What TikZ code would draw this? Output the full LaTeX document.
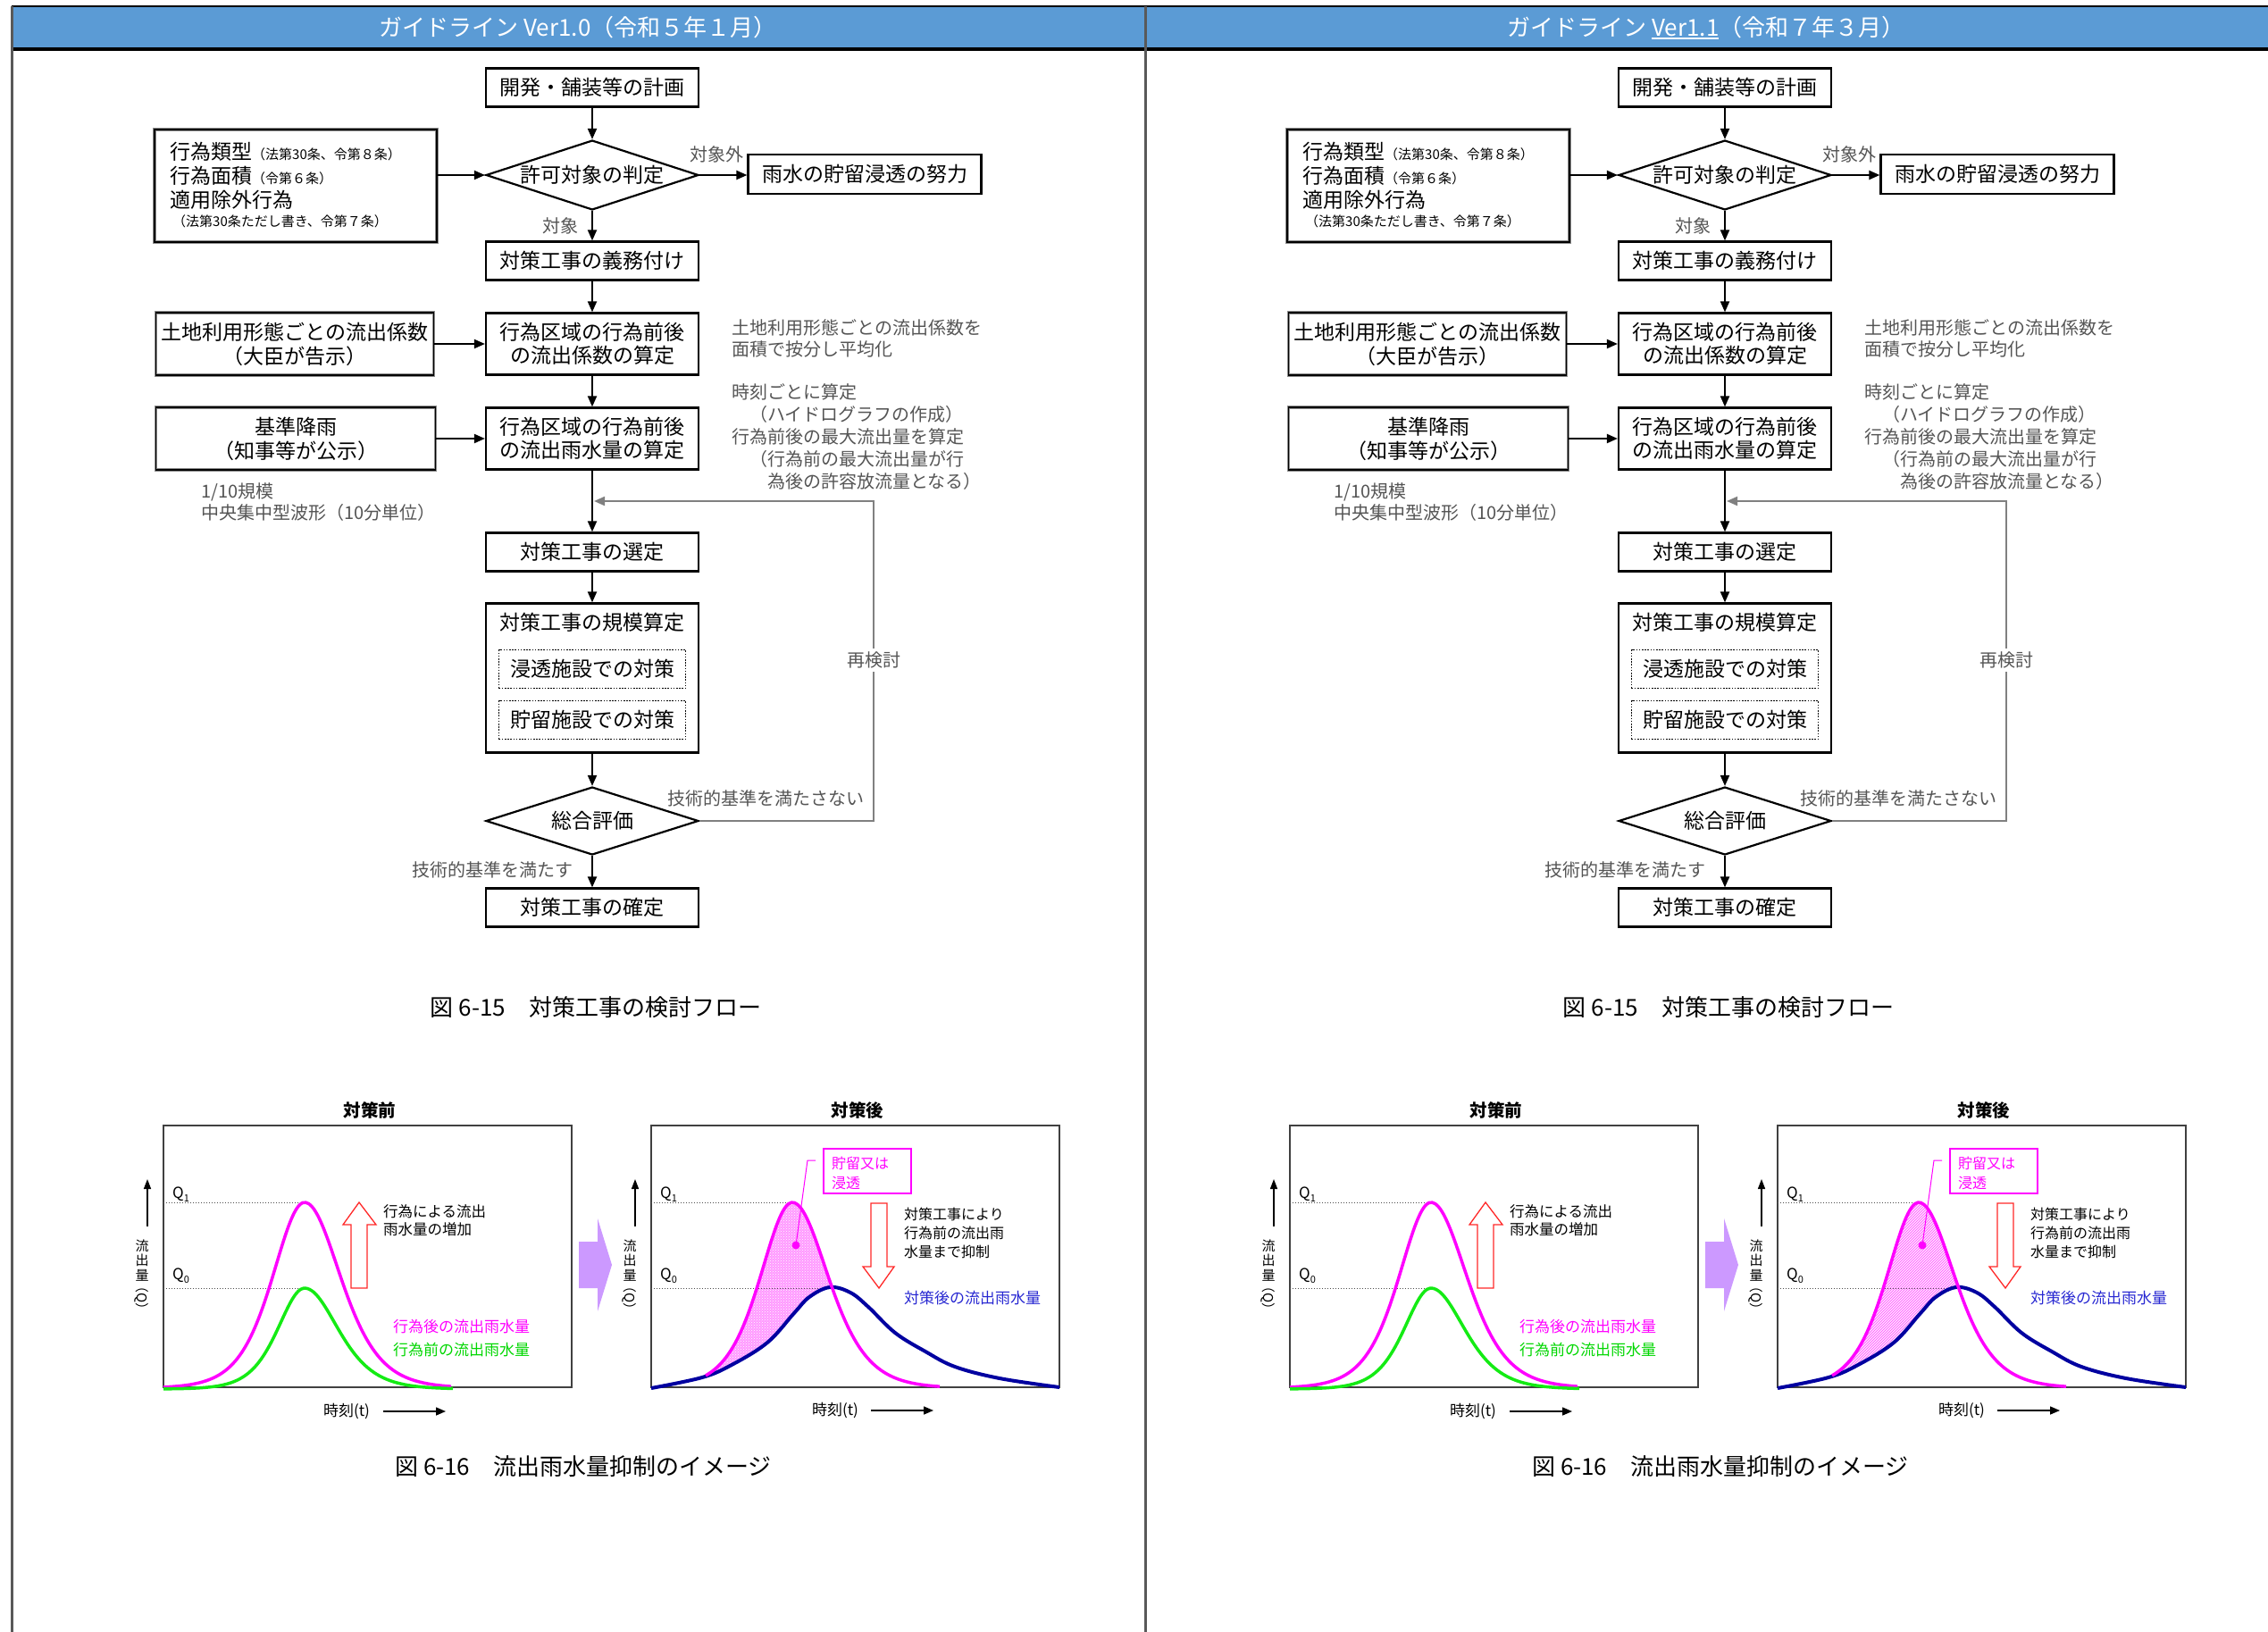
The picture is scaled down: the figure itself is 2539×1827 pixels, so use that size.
\documentclass[tikz,border=0pt]{standalone}
\usepackage{fontspec}
\setmainfont{Noto Sans CJK JP}
\usetikzlibrary{arrows.meta,shapes.geometric,patterns}
\definecolor{hdrblue}{RGB}{91,155,213}
\definecolor{notegray}{RGB}{85,85,85}
\definecolor{fbgray}{RGB}{128,128,128}
\definecolor{cmag}{RGB}{255,0,255}
\definecolor{cgreen}{RGB}{20,235,20}
\definecolor{ctgreen}{RGB}{0,215,0}
\definecolor{cnavy}{RGB}{0,0,160}
\definecolor{cbtxt}{RGB}{40,40,210}
\definecolor{cred}{RGB}{255,40,40}
\definecolor{clav}{RGB}{204,153,255}
\newcommand\myfs[2]{\fontsize{#1}{#2}\selectfont}
\newcommand\qsub[1]{\raisebox{-4pt}{\myfs{11}{12}#1}}
\newcommand\myul[1]{\setbox0=\hbox{#1}\rlap{\rule[-4pt]{\wd0}{2.2pt}}\box0}
\tikzset{
  fbx/.style={draw=black, line width=2.2pt, inner sep=0pt, minimum width=238pt, minimum height=43pt, align=center, font=\myfs{23}{26}},
  fdia/.style={draw=black, line width=2.2pt, shape=diamond, aspect=3.05, inner sep=0pt, minimum width=238pt, minimum height=78pt, font=\myfs{23}{26}},
  inbox/.style={draw=black!45, double=black, double distance=1.4pt, line width=1.2pt, inner sep=0pt, align=center, font=\myfs{23}{27}},
  dotbox/.style={draw=black, line width=1.6pt, dash pattern=on 1.6pt off 1.6pt, inner sep=0pt, minimum width=209pt, minimum height=43pt, font=\myfs{23}{26}},
  arr/.style={-{Triangle[length=12pt,width=10pt]}, line width=2pt},
  fbarr/.style={-{Triangle[length=12pt,width=10pt]}, line width=2pt, draw=fbgray},
  note/.style={text=notegray, font=\myfs{20}{24}, align=left, inner sep=0pt},
  lbl/.style={text=notegray, font=\myfs{20}{24}, inner sep=0pt},
  captxt/.style={font=\myfs{26}{30}, inner sep=0pt},
  ttl/.style={font=\myfs{19.5}{22}\bfseries, inner sep=0pt},
  pbox/.style={draw=black!75, line width=1.6pt},
  qline/.style={draw=black!70, line width=1pt, dotted},
  qlab/.style={font=\myfs{17}{20}, inner sep=0pt, anchor=west},
  axarr/.style={-{Triangle[length=11pt,width=8pt]}, line width=1.5pt},
  tarr/.style={-{Triangle[length=11pt,width=9pt]}, line width=1.5pt},
  vlab/.style={font=\myfs{15}{16.5}, inner sep=0pt, align=center},
  ctext/.style={font=\myfs{16.5}{20}, align=left, inner sep=0pt, anchor=west},
}
\newcommand\flowhalf[1]{%
  \node[fbx] (#1plan) at (663,98) {開発・舗装等の計画};
  \node[fdia] (#1judge) at (663,196) {許可対象の判定};
  \node[inbox, minimum width=316pt, minimum height=126pt] (#1type) at (331,208) {};
  \node[anchor=west, inner sep=0pt] (#1ta) at (190,170) {\myfs{23}{26}行為類型{\myfs{15}{18}（法第30条、令第８条）}};
  \node[anchor=west, inner sep=0pt] (#1tb) at (190,197) {\myfs{23}{26}行為面積{\myfs{15}{18}（令第６条）}};
  \node[anchor=west, inner sep=0pt, font=\myfs{23}{26}] (#1tc) at (190,224) {適用除外行為};
  \node[anchor=west, inner sep=0pt, font=\myfs{15}{18}] (#1td) at (193,248) {（法第30条ただし書き、令第７条）};
  \node[fbx, minimum width=261pt, minimum height=44pt] (#1effort) at (968,195) {雨水の貯留浸透の努力};
  \node[fbx] (#1duty) at (663,292) {対策工事の義務付け};
  \node[inbox, minimum width=311pt, minimum height=70pt] (#1cin) at (330,385) {土地利用形態ごとの流出係数\\（大臣が告示）};
  \node[fbx, minimum height=69pt] (#1ccalc) at (663,385) {行為区域の行為前後\\の流出係数の算定};
  \node[inbox, minimum width=313pt, minimum height=70pt] (#1rin) at (331,491) {基準降雨\\（知事等が公示）};
  \node[fbx, minimum height=69pt] (#1rcalc) at (663,491) {行為区域の行為前後\\の流出雨水量の算定};
  \node[fbx] (#1sel) at (663,618) {対策工事の選定};
  \node[fbx, minimum height=167pt] (#1scale) at (663,759) {};
  \node[inner sep=0pt, font=\myfs{23}{26}] (#1scalet) at (663,697) {対策工事の規模算定};
  \node[dotbox] (#1inf) at (663,749) {浸透施設での対策};
  \node[dotbox] (#1sto) at (663,806) {貯留施設での対策};
  \node[fdia, minimum height=76pt] (#1eval) at (663,919) {総合評価};
  \node[fbx] (#1fix) at (663,1016) {対策工事の確定};
  \draw[arr] (#1plan) -- (#1judge);
  \draw[arr] (#1type.east |- #1judge.west) -- (#1judge.west);
  \draw[arr] (#1judge.east) -- (#1effort.west |- #1judge.east);
  \draw[arr] (#1judge) -- (#1duty);
  \draw[arr] (#1duty) -- (#1ccalc);
  \draw[arr] (#1cin) -- (#1ccalc);
  \draw[arr] (#1ccalc) -- (#1rcalc);
  \draw[arr] (#1rin) -- (#1rcalc);
  \draw[arr] (#1rcalc) -- (#1sel);
  \draw[arr] (#1sel) -- (#1scale);
  \draw[arr] (#1scale) -- (#1eval);
  \draw[arr] (#1eval) -- (#1fix);
  \coordinate (#1fbt) at (978,561);
  \coordinate (#1fbj) at (665,561);
  \draw[fbarr] (#1eval.east) -| (#1fbt) -- (#1fbj);
  \node[lbl, fill=white, inner sep=4pt] (#1re) at (978,739) {再検討};
  \node[lbl] (#1lno) at (802,173) {対象外};
  \node[lbl] (#1lyes) at (627,253) {対象};
  \node[lbl] (#1lng) at (857,894) {技術的基準を満たさない};
  \node[lbl, anchor=east] (#1lok) at (642,974) {技術的基準を満たす};
  \node[note, anchor=west] (#1n1) at (819,379) {土地利用形態ごとの流出係数を\\面積で按分し平均化};
  \node[note, anchor=west, font=\myfs{20}{25}] (#1n2) at (819,489) {時刻ごとに算定\\　（ハイドログラフの作成）\\行為前後の最大流出量を算定\\　（行為前の最大流出量が行\\　　為後の許容放流量となる）};
  \node[note, anchor=west] (#1n3) at (225,562) {1/10規模\\中央集中型波形（10分単位）};
  \node[captxt] (#1cap) at (667,1128) {図 6-15　対策工事の検討フロー};
}
\newcommand\charthalf[2]{%
  \node[ttl] (#1tb) at (414,1243) {対策前};
  \node[ttl] (#1ta) at (960,1243) {対策後};
  % storage area fill (after)
  \begin{scope}
    \clip plot[domain=729:1052, samples=80] (\x,{1554-208/(cosh((\x-887)/(48+6*(\x>887))))^2}) -- (1052,1560) -- (729,1560) -- cycle;
    \fill[#2] plot[smooth, tension=0.6] coordinates {(729,1554) (786,1542) (819,1528) (859,1503) (889,1470) (906,1452) (929,1441) (952,1447) (972,1463) (1002,1492) (1036,1513) (1069,1530) (1119,1543) (1186,1553)} -- (1186,1260) -- (729,1260) -- cycle;
  \end{scope}
  \draw[pbox] (183,1260) rectangle (640,1553);
  \draw[pbox] (729,1260) rectangle (1186,1553);
  \draw[qline] (183,1346) -- (341,1346);
  \draw[qline] (183,1442) -- (341,1442);
  \draw[qline] (729,1346) -- (887,1346);
  \draw[qline] (729,1442) -- (929,1442);
  \node[qlab] (#1qa) at (193,1337) {Q\qsub{1}};
  \node[qlab] (#1qb) at (193,1428) {Q\qsub{0}};
  \node[qlab] (#1qc) at (739,1337) {Q\qsub{1}};
  \node[qlab] (#1qd) at (739,1428) {Q\qsub{0}};
  \draw[axarr] (165,1373) -- (165,1320);
  \node[vlab] (#1va) at (159,1411) {流\\出\\量};
  \node[vlab, rotate=-90] (#1vb) at (159,1453) {（Q）};
  \draw[axarr] (711,1373) -- (711,1320);
  \node[vlab] (#1vc) at (705,1411) {流\\出\\量};
  \node[vlab, rotate=-90] (#1vd) at (705,1453) {（Q）};
  \node[font=\myfs{17}{20}, inner sep=0pt] (#1tl) at (388,1580) {時刻(t)};
  \draw[tarr] (429,1580) -- (499,1580);
  \node[font=\myfs{17}{20}, inner sep=0pt] (#1tr) at (935,1579) {時刻(t)};
  \draw[tarr] (975,1579) -- (1045,1579);
  % before
  \draw[cmag, line width=3.5pt] plot[domain=183:505, samples=100, smooth] (\x,{1554-208/(cosh((\x-341)/(48+6*(\x>341))))^2});
  \draw[cgreen, line width=3.5pt] plot[domain=183:507, samples=100, smooth] (\x,{1555-113/(cosh((\x-341)/(40+10*(\x>341))))^2});
  \draw[cred, line width=1.3pt, fill=white] (393,1442) -- (411,1442) -- (411,1371) -- (421,1371) -- (402,1346) -- (384,1371) -- (393,1371) -- cycle;
  \node[ctext] (#1inc) at (429,1366) {行為による流出\\雨水量の増加};
  \node[ctext, text=cmag, font=\myfs{17}{20}] (#1lm) at (440,1485) {行為後の流出雨水量};
  \node[ctext, text=ctgreen, font=\myfs{17}{20}] (#1lg) at (440,1511) {行為前の流出雨水量};
  % big arrow
  \fill[clav] (648,1390) -- (669,1390) -- (669,1364) -- (685,1416) -- (669,1468) -- (669,1442) -- (648,1442) -- cycle;
  % after
  \draw[cnavy, line width=4pt] plot[smooth, tension=0.6] coordinates {(729,1554) (786,1542) (819,1528) (859,1503) (889,1470) (906,1452) (929,1441) (952,1447) (972,1463) (1002,1492) (1036,1513) (1069,1530) (1119,1543) (1186,1553)};
  \draw[cmag, line width=3.5pt] plot[domain=790:1052, samples=80, smooth] (\x,{1554-208/(cosh((\x-887)/(48+6*(\x>887))))^2});
  \draw[cmag, line width=1.3pt] (922,1286) rectangle (1020,1336);
  \node[ctext, text=cmag, font=\myfs{16}{22}] (#1st) at (931,1313) {貯留又は\\浸透};
  \draw[cmag, line width=1pt] (891,1394) -- (904,1299) -- (913,1299);
  \fill[cmag] (891,1394) circle (4.5pt);
  \draw[cred, line width=1.3pt, fill=white] (975,1347) -- (993,1347) -- (993,1418) -- (1001,1418) -- (984,1442) -- (966,1418) -- (975,1418) -- cycle;
  \node[ctext, font=\myfs{16}{21}] (#1sup) at (1012,1380) {対策工事により\\行為前の流出雨\\水量まで抑制};
  \node[ctext, text=cbtxt, font=\myfs{17}{20}] (#1lb) at (1012,1453) {対策後の流出雨水量};
}
\begin{document}
\begin{tikzpicture}[x=1pt,y=-1pt]
\useasboundingbox (0,0) rectangle (2539,1827);
\fill[white] (0,0) rectangle (2539,1827);
\fill[hdrblue] (13,7) rectangle (2539,55);
\draw[line width=2.5pt] (13,7) -- (2539,7);
\draw[line width=3.5pt] (13,55) -- (2539,55);
\draw[line width=3pt, black!65] (13,7) -- (13,1827);
\draw[line width=3pt, black!65] (1282,7) -- (1282,1827);
\node[text=white, font=\myfs{26}{30}, inner sep=0pt] (hdrL) at (647,31) {ガイドライン Ver1.0（令和５年１月）};
\node[text=white, font=\myfs{26}{30}, inner sep=0pt] (hdrR) at (1910,31) {ガイドライン \myul{Ver1.1}（令和７年３月）};
\flowhalf{L}
\begin{scope}[xshift=1268pt]
\flowhalf{R}
\end{scope}
\charthalf{L}{fill=cmag!40, postaction={pattern=crosshatch dots, pattern color=white}}
\begin{scope}[xshift=1261pt]
\charthalf{R}{fill=cmag!12, postaction={pattern=north east lines, pattern color=cmag!70}}
\end{scope}
\node[captxt] (capL) at (653,1642) {図 6-16　流出雨水量抑制のイメージ};
\node[captxt] (capR) at (1926,1642) {図 6-16　流出雨水量抑制のイメージ};
\end{tikzpicture}
\end{document}
